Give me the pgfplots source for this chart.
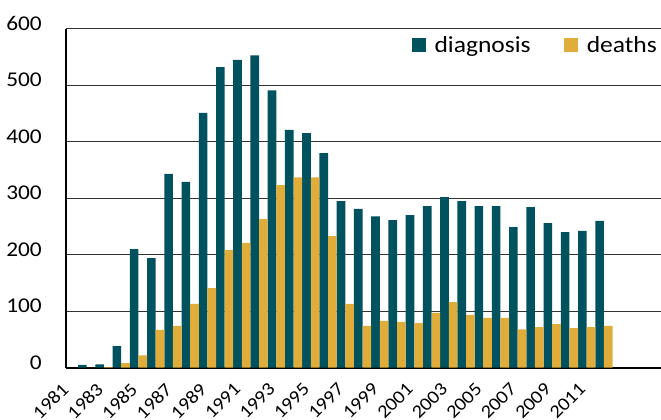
\documentclass[border=0pt]{standalone}
\usepackage{pgfplots}
\pgfplotsset{compat=1.18}
\usepackage{fontspec}
\setmainfont{Carlito}[FakeStretch=1.11]
\definecolor{diag}{RGB}{1,82,95}
\definecolor{death}{RGB}{224,173,58}
\begin{document}
\begin{tikzpicture}
\begin{axis}[
  scale only axis, width=595bp, height=339bp,
  xmin=-1.2, xmax=33.31, ymin=0, ymax=600,
  axis x line*=bottom, axis y line*=left,
  ybar=0pt, bar width=8.62bp,
  ytick={0,100,...,600},
  xtick={0,2,...,30},
  xticklabels={1981,1983,1985,1987,1989,1991,1993,1995,1997,1999,2001,2003,2005,2007,2009,2011},
  major tick length=0pt,
  ymajorgrids, grid style={black!80, line width=0.9bp},
  x axis line style={line width=1.8bp, black},
  y axis line style={line width=1.4bp, black},
  /pgf/number format/assume math mode=true,
  yticklabel style={font=\fontsize{21bp}{24bp}\selectfont, anchor=east, inner sep=0pt, xshift=-24bp, yshift=5bp},
  xticklabel style={font=\fontsize{18.5bp}{22bp}\selectfont, xshift=-26bp, yshift=-14bp, rotate=45, anchor=north east, inner sep=0pt},
  legend columns=2,
  legend image code/.code={\fill[#1] (0bp,-7bp) rectangle (14bp,7bp); \path (23bp,0bp);},
  legend style={draw=none, fill=none, at={(axis description cs:0.9933,0.952)}, anchor=east,
    font=\fontsize{23bp}{27bp}\selectfont, inner sep=0pt, nodes={inner sep=0pt},
    /tikz/every even column/.append style={column sep=33bp}},
]
\addplot[fill=diag, draw=none] coordinates {
(0,5) (1,6) (2,38) (3,210) (4,194) (5,343) (6,329) (7,451) (8,532) (9,545)
(10,553) (11,491) (12,421) (13,415) (14,380) (15,295) (16,281) (17,268) (18,261) (19,270)
(20,286) (21,302) (22,295) (23,286) (24,286) (25,249) (26,284) (27,256) (28,240) (29,242)
(30,260)};
\addplot[fill=death, draw=none] coordinates {
(0,0) (1,1) (2,8) (3,22) (4,67) (5,74) (6,113) (7,141) (8,208) (9,221)
(10,263) (11,323) (12,337) (13,337) (14,233) (15,113) (16,74) (17,83) (18,81) (19,79)
(20,97) (21,116) (22,93) (23,88) (24,88) (25,68) (26,72) (27,77) (28,70) (29,72)
(30,74)};
\legend{diagnosis, deaths}
\end{axis}
\pgfresetboundingbox
\path (current axis.south west) ++(-66bp,-52.3bp) rectangle ++(661bp,420bp);
\end{tikzpicture}
\end{document}
